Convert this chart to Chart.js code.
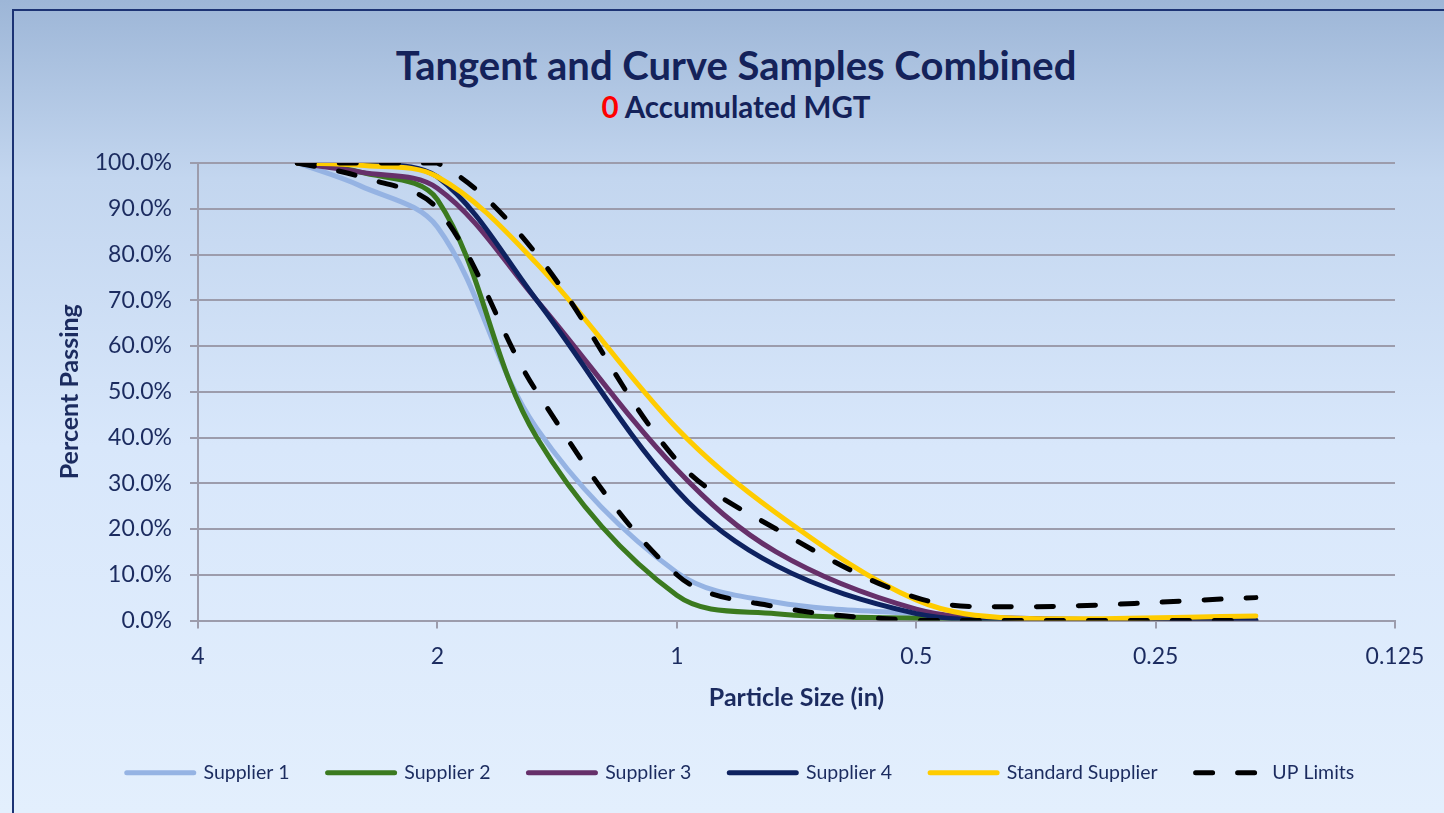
<!DOCTYPE html>
<html>
<head>
    <title>Tangent and Curve Samples Combined</title>
    <script src="https://cdn.jsdelivr.net/npm/chart.js"></script>
    <style>
        body {
            margin: 0;
            width: 1444px;
            height: 813px;
            overflow: hidden;
            font-family: Lato, sans-serif;
            background: linear-gradient(#9db6d7 0%, #c3d6ef 22%, #d8e7fb 55%, #e3effd 100%);
        }
        #frame {
            position: absolute;
            left: 12px;
            top: 9px;
            width: 1500px;
            height: 900px;
            border: 2px solid #1c3374;
        }
        .heading {
            position: absolute;
            left: 0;
            width: 1472px;
            text-align: center;
            font-weight: bold;
            color: #14225a;
            margin: 0;
        }
        #mainTitle {
            top: 43px;
            font-size: 40px;
            line-height: 44px;
        }
        #subTitle {
            top: 91px;
            font-size: 29.5px;
            line-height: 32px;
        }
        #subTitle span {
            color: #ff0000; /* MGT count in red */
        }
        canvas {
            position: absolute;
            left: 0;
            top: 0;
        }
    </style>
</head>
<body>
    <div id="frame"></div>
    <div class="heading" id="mainTitle">Tangent and Curve Samples Combined</div>
    <div class="heading" id="subTitle"><span>0</span> Accumulated MGT</div>
    <canvas id="gradationChart" width="1444" height="813"></canvas>

    <script>
        // sieve sizes (in) and percent passing
        const sieveSizes = [3, 2.5, 2, 1.5, 1, 0.75, 0.5, 0.375, 0.187];
        const supplier1 = [100, 95, 86, 42, 10.5, 4, 1.5, 0.5, 0];
        const supplier2 = [100, 98, 92, 40, 5.5, 1.5, 0.5, 0, 0];
        const supplier3 = [100, 98, 94.5, 70, 33, 15, 2.5, 0.5, 0];
        const supplier4 = [100, 100, 97, 70, 28.5, 12, 1.5, 0, 0];
        const standardSupplier = [100, 99.5, 97, 78, 42, 23.5, 4.5, 0.5, 1];
        const upLower = [100, 97, 90, 50, 10, 3, 0, 0, 0];
        const upUpper = [100, 100, 100, 80, 35, 20, 5, 3, 5];

        const xTickValues = [4, 2, 1, 0.5, 0.25, 0.125];

        const textColor = '#1b2b5f';
        const gridColor = '#9c9cac';

        Chart.defaults.font.family = 'Lato, sans-serif';
        Chart.defaults.color = textColor;

        function points(values) {
            return values.map((v, i) => ({ x: sieveSizes[i], y: v }));
        }

        function series(label, values, color, order, dashed) {
            return {
                label: label,
                data: points(values),
                borderColor: color,
                backgroundColor: color,
                borderWidth: 5,
                borderDash: dashed ? [17, 25] : [],
                borderCapStyle: 'round',
                pointRadius: 0,
                tension: 0.35,
                fill: false,
                showLine: true,
                order: order
            };
        }

        const config = {
            type: 'scatter',
            data: {
                datasets: [
                    series('Supplier 1', supplier1, '#95b3e3', 7),
                    series('Supplier 2', supplier2, '#3b7a1f', 6),
                    series('Supplier 3', supplier3, '#66306a', 5),
                    series('Supplier 4', supplier4, '#0e2260', 4),
                    series('Standard Supplier', standardSupplier, '#ffcc00', 3),
                    series('UP Limits', upLower, '#000000', 2, true),
                    series('UP Limits', upUpper, '#000000', 1, true)
                ]
            },
            options: {
                responsive: false,
                animation: false,
                layout: {
                    padding: { top: 163, left: 86, right: 49, bottom: 20.5 }
                },
                plugins: {
                    tooltip: { enabled: false },
                    legend: {
                        position: 'bottom',
                        labels: {
                            usePointStyle: true,
                            pointStyle: 'line',
                            pointStyleWidth: 67,
                            padding: 38,
                            color: textColor,
                            font: { size: 19.5 },
                            sort: (a, b) => a.datasetIndex - b.datasetIndex,
                            filter: (item) => item.datasetIndex !== 6,
                            generateLabels: (chart) => {
                                const items = Chart.defaults.plugins.legend.labels.generateLabels(chart);
                                items.forEach(item => {
                                    const ds = chart.data.datasets[item.datasetIndex];
                                    item.lineDash = ds.borderDash;
                                    item.lineCap = 'round';
                                    item.lineWidth = 5;
                                });
                                return items;
                            }
                        }
                    }
                },
                scales: {
                    x: {
                        type: 'logarithmic',
                        reverse: true,
                        min: 0.125,
                        max: 4,
                        afterBuildTicks: (scale) => {
                            scale.ticks = xTickValues.map(v => ({ value: v }));
                        },
                        afterFit: (scale) => {
                            scale.height = 104.5;
                        },
                        ticks: {
                            autoSkip: false,
                            maxRotation: 0,
                            padding: 14,
                            color: textColor,
                            font: { size: 23 },
                            callback: (value) => String(value)
                        },
                        grid: {
                            drawOnChartArea: false,
                            tickLength: 8,
                            color: gridColor,
                            lineWidth: 2
                        },
                        border: { color: gridColor, width: 2 },
                        title: {
                            display: true,
                            text: 'Particle Size (in)',
                            color: textColor,
                            font: { size: 25, weight: 'bold' },
                            padding: { top: 0, bottom: 12.5 }
                        }
                    },
                    y: {
                        min: 0,
                        max: 100,
                        afterFit: (scale) => {
                            scale.width = 112;
                        },
                        ticks: {
                            stepSize: 10,
                            padding: 18,
                            color: textColor,
                            font: { size: 23 },
                            callback: (value) => value.toFixed(1) + '%'
                        },
                        grid: {
                            color: gridColor,
                            lineWidth: 2,
                            tickLength: 8
                        },
                        border: { color: gridColor, width: 2 },
                        title: {
                            display: true,
                            text: 'Percent Passing',
                            color: textColor,
                            font: { size: 25, weight: 'bold' },
                            padding: { top: -31, bottom: 0 }
                        }
                    }
                }
            }
        };

        const ctx = document.getElementById('gradationChart').getContext('2d');
        const gradationChart = new Chart(ctx, config);
    </script>
</body>
</html>
